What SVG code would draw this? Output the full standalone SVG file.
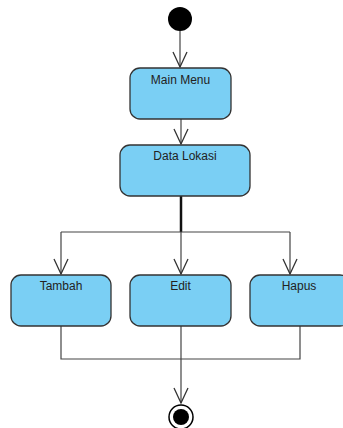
<svg xmlns="http://www.w3.org/2000/svg" width="343" height="428" viewBox="0 0 343 428">
<defs>
<style>
.box{fill:#7ACFF4;stroke:#333;stroke-width:1.3}
.lbl{font-family:"Liberation Sans",Arial,sans-serif;font-size:12px;fill:#222;text-anchor:middle}
.ln{fill:none;stroke:#444;stroke-width:1.2}
</style>
<marker id="ah" markerUnits="userSpaceOnUse" markerWidth="18" markerHeight="16" viewBox="-1 -1 18 16" refX="15" refY="7" orient="auto">
<path d="M0,0 L15,7 L0,14" fill="none" stroke="#333" stroke-width="1.3"/>
</marker>
</defs>
<g id="connectors">
<path class="ln" d="M180,31 V67" marker-end="url(#ah)"/>
<path class="ln" d="M181,119 V144" marker-end="url(#ah)"/>
<path d="M181,196 V232" fill="none" stroke="#111" stroke-width="2.5"/>
<path class="ln" d="M61,232 H290"/>
<path class="ln" d="M61,232 V274" marker-end="url(#ah)"/>
<path class="ln" d="M181,232 V274" marker-end="url(#ah)"/>
<path class="ln" d="M290,232 V274" marker-end="url(#ah)"/>
<path class="ln" d="M61,326 V359 H300 V326"/>
<path class="ln" d="M181,326 V403" marker-end="url(#ah)"/>
</g>
<g id="start"><circle cx="180" cy="19" r="12" fill="#000"/></g>
<g id="main-menu"><rect class="box" x="130" y="68" width="101" height="51" rx="10"/><text class="lbl" x="180.5" y="84">Main Menu</text></g>
<g id="data-lokasi"><rect class="box" x="120" y="145" width="130" height="51" rx="10"/><text class="lbl" x="185" y="160">Data Lokasi</text></g>
<g id="tambah"><rect class="box" x="11" y="275" width="100" height="51" rx="10"/><text class="lbl" x="61" y="290">Tambah</text></g>
<g id="edit"><rect class="box" x="130" y="275" width="101" height="51" rx="10"/><text class="lbl" x="180.5" y="290">Edit</text></g>
<g id="hapus"><rect class="box" x="250" y="275" width="100" height="51" rx="10"/><text class="lbl" x="299" y="290">Hapus</text></g>
<g id="end"><circle cx="181" cy="417" r="12" fill="#fff" stroke="#000" stroke-width="1.5"/><circle cx="181" cy="417" r="8" fill="#000"/></g>
</svg>
